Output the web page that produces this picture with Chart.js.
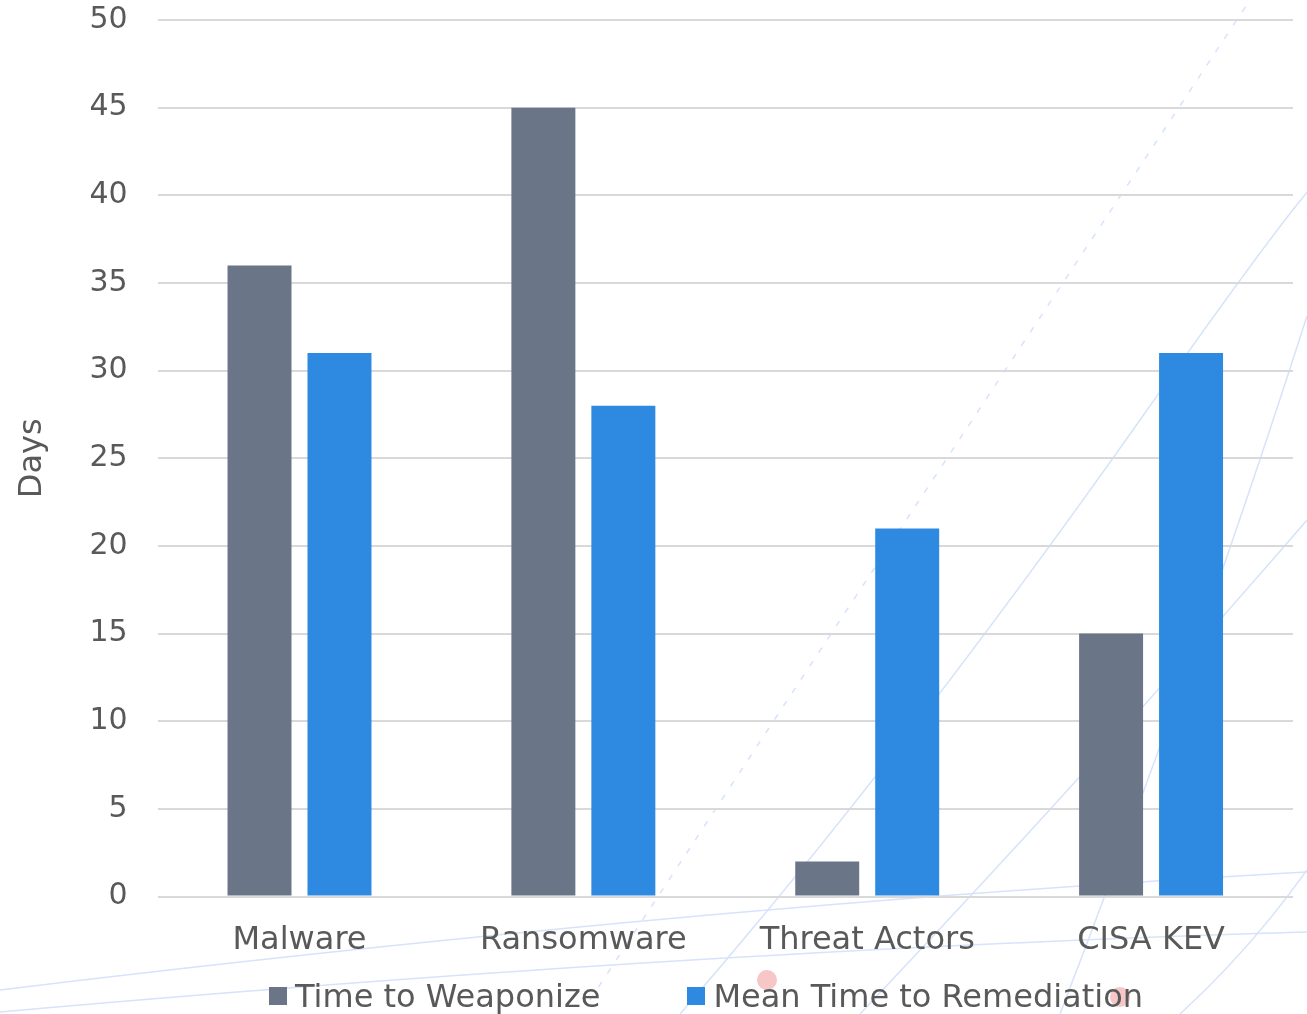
<!DOCTYPE html>
<html>
<head>
<meta charset="utf-8">
<script src="https://cdn.jsdelivr.net/npm/chart.js@4.4.1/dist/chart.umd.min.js"></script>
<style>
  html, body { margin: 0; padding: 0; background: #fff; }
  #wrap { position: relative; width: 1307px; height: 1014px; overflow: hidden; }
  #bg { position: absolute; left: 0; top: 0; }
  #myChart { position: absolute; left: 0; top: 0; }
  #legend {
    position: absolute; left: 269px; top: 977px;
    display: flex; gap: 87px;
    font-family: "DejaVu Sans", sans-serif; font-size: 32px; color: #595959;
  }
  #legend .item { display: flex; align-items: center; }
  #legend .box { width: 18px; height: 18px; margin-right: 8px; }
</style>
</head>
<body>
<div id="wrap">
  <!-- faint background strokes -->
  <svg id="bg" width="1307" height="1014" fill="none">
    <g stroke="#d6e3fb" stroke-width="1.5">
      <path d="M 0 990 Q 700 905 1307 872" />
      <path d="M 0 1012 Q 700 950 1307 932" />
      <path d="M 680 1014 Q 900 760 1140 420 T 1307 215" />
      <path d="M 860 1014 Q 1100 760 1307 520" />
      <path d="M 1180 1014 Q 1250 950 1307 870" />
      <path d="M 1060 1014 Q 1200 650 1307 316" />
      <path d="M 590 1000 Q 800 680 1250 0" stroke-dasharray="6 10" />
    </g>
    <circle cx="767" cy="980" r="10" fill="#f7c6c6" />
    <circle cx="1120" cy="997" r="10" fill="#f7c6c6" />
  </svg>
  <canvas id="myChart" width="1307" height="1014"></canvas>
  <div id="legend"></div>
</div>
<script>
const categories = ["Malware", "Ransomware", "Threat Actors", "CISA KEV"];
const timeToWeaponize = [36, 45, 2, 15];
const meanTimeToRemediation = [31, 28, 21, 31];
const yTicks = [0, 5, 10, 15, 20, 25, 30, 35, 40, 45, 50];

const textColor = "#595959";
const fontFamily = "'DejaVu Sans', sans-serif";

// builds the legend as plain html under the canvas
const htmlLegend = {
  id: "htmlLegend",
  afterUpdate(chart) {
    const el = document.getElementById("legend");
    el.innerHTML = "";
    chart.options.plugins.legend.labels.generateLabels(chart).forEach((item) => {
      const row = document.createElement("div");
      row.className = "item";
      const box = document.createElement("span");
      box.className = "box";
      box.style.background = item.fillStyle;
      const label = document.createElement("span");
      label.textContent = item.text;
      row.appendChild(box);
      row.appendChild(label);
      el.appendChild(row);
    });
  },
};

const initChart = () => {
  var ctx = document.querySelector("#myChart");

  var chart = new Chart(ctx, {
    type: "bar",
    data: {
      labels: categories,
      datasets: [
        {
          label: "Time to Weaponize",
          data: timeToWeaponize,
          backgroundColor: "#6a7688",
        },
        {
          label: "Mean Time to Remediation",
          data: meanTimeToRemediation,
          backgroundColor: "#2e8ae0",
        },
      ],
    },
    options: {
      responsive: false,
      animation: false,
      layout: {
        padding: { top: 0, right: 14, bottom: 37, left: 0 },
      },
      datasets: {
        bar: { categoryPercentage: 0.5635, barPercentage: 0.8 },
      },
      plugins: {
        legend: { display: false },
        tooltip: { enabled: false },
      },
      scales: {
        x: {
          grid: { display: false },
          border: { display: false },
          ticks: {
            color: textColor,
            font: { family: fontFamily, size: 32 },
            padding: 17,
            maxRotation: 0,
          },
        },
        y: {
          min: 0,
          max: 50,
          afterBuildTicks: (axis) => {
            axis.ticks = yTicks.map((v) => ({ value: v }));
          },
          // invisible tick marks keep the labels clear of the grid
          grid: {
            color: "#d9d9d9",
            lineWidth: 2,
            drawTicks: true,
            tickLength: 28,
            tickColor: "rgba(0,0,0,0)",
          },
          border: { display: false },
          ticks: {
            color: textColor,
            font: { family: fontFamily, size: 30 },
            padding: 2,
          },
          title: {
            display: true,
            text: "Days",
            color: textColor,
            font: { family: fontFamily, size: 32 },
            padding: { top: 13, bottom: 36 },
          },
        },
      },
    },
    plugins: [htmlLegend],
  });
};

initChart();
</script>
</body>
</html>
